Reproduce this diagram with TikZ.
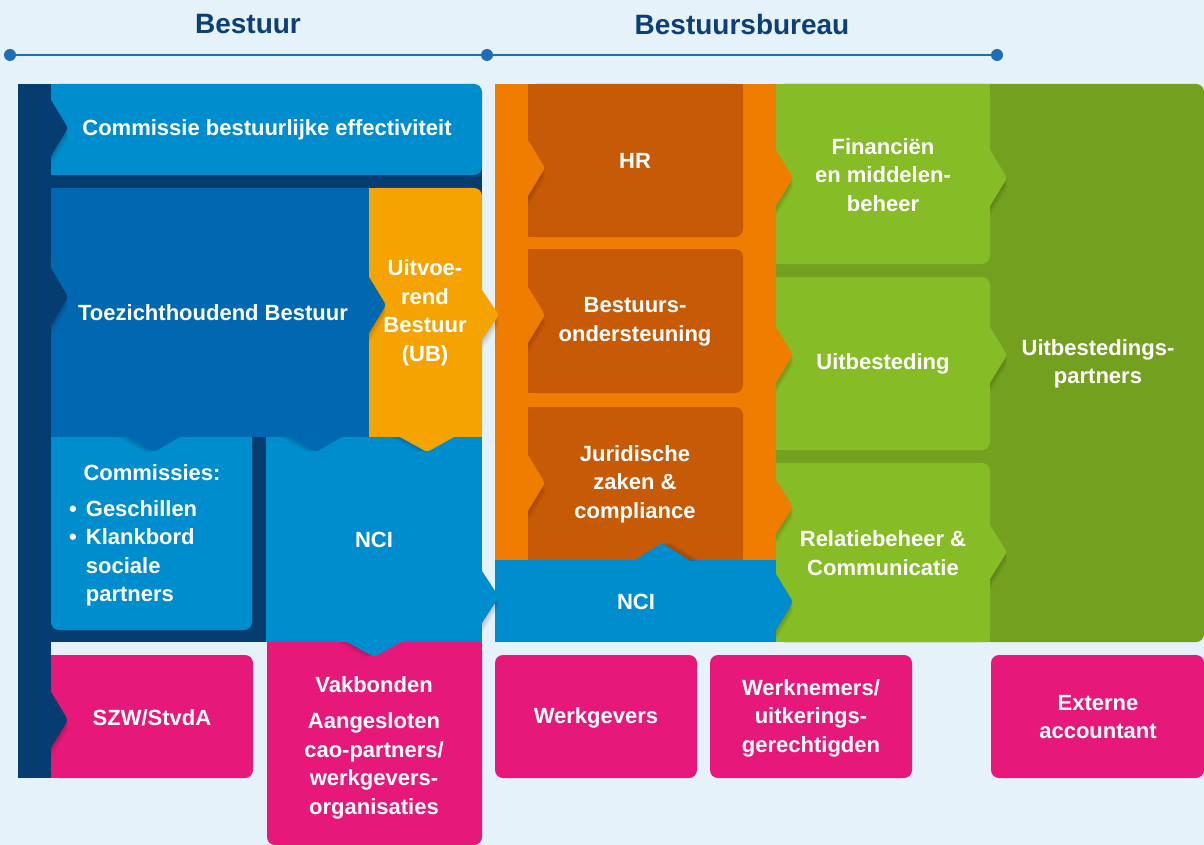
\documentclass[tikz,border=0pt]{standalone}
\usepackage{fontspec}
\setmainfont{Liberation Sans}
\definecolor{bgc}{HTML}{E5F2F9}
\definecolor{navy}{HTML}{053D70}
\definecolor{cyanb}{HTML}{008DCD}
\definecolor{tbblue}{HTML}{0068B0}
\definecolor{uby}{HTML}{F5A300}
\definecolor{orng}{HTML}{EE7D00}
\definecolor{dorng}{HTML}{C75A06}
\definecolor{lgreen}{HTML}{86BC26}
\definecolor{dgreen}{HTML}{74A020}
\definecolor{pinkc}{HTML}{E6197A}
\definecolor{linec}{HTML}{1D6EB5}
\definecolor{titlec}{HTML}{0D3E74}
% right-pointing chevron: colour, base x, tip y, half height
\newcommand\chevR[4]{%
 \begin{scope}\clip (#2,{#3-#4-2}) rectangle ({#2+40},{#3+#4+16});
 \foreach \s in {2,4,...,10}{\fill[black,opacity=.035] ({#2-8},{#3-#4-8*#4/17+\s}) -- ({#2+17},{#3+\s}) -- ({#2-8},{#3+#4+8*#4/17+\s}) -- cycle;}\end{scope}
 \fill[#1,rounded corners=3] ({#2-8},{#3-#4-8*#4/17}) -- ({#2+17},#3) -- ({#2-8},{#3+#4+8*#4/17}) -- cycle;}
% down-pointing chevron: colour, centre x, base y, half width
\newcommand\chevD[4]{%
 \begin{scope}\clip ({#2-#4-16},#3) rectangle ({#2+#4+2},{#3+30});
 \foreach \s in {2,4,...,10}{\fill[black,opacity=.035] ({#2-#4-8*#4/15-\s},{#3-8}) -- ({#2-\s},{#3+15}) -- ({#2+#4+8*#4/15-\s},{#3-8}) -- cycle;}\end{scope}
 \fill[#1,rounded corners=3] ({#2-#4-8*#4/15},{#3-8}) -- (#2,{#3+15}) -- ({#2+#4+8*#4/15},{#3-8}) -- cycle;}
% up-pointing chevron: colour, centre x, base y, half width
\newcommand\chevU[4]{%
 \begin{scope}\clip ({#2-#4-2},#3) rectangle ({#2+#4+16},{#3-30});
 \foreach \s in {2,4,...,10}{\fill[black,opacity=.035] ({#2-#4-8*#4/17+\s},{#3+8}) -- ({#2+\s},{#3-17}) -- ({#2+#4+8*#4/17+\s},{#3+8}) -- cycle;}\end{scope}
 \fill[#1,rounded corners=3] ({#2-#4-8*#4/17},{#3+8}) -- (#2,{#3-17}) -- ({#2+#4+8*#4/17},{#3+8}) -- cycle;}
\begin{document}
\begin{tikzpicture}[x=1pt,y=-1pt,
  lbl/.style={text=white,font=\bfseries\fontsize{22}{28.5}\selectfont,align=center,inner sep=0pt},
  ttl/.style={text=titlec,font=\bfseries\fontsize{28}{30}\selectfont,inner sep=0pt}]
\useasboundingbox (0,0) rectangle (1204,845);
\fill[bgc] (0,0) rectangle (1204,845);
% titles and line
\node[ttl] (tBestuur) at (248,24) {Bestuur};
\node[ttl] (tBureau) at (742,24) {Bestuursbureau};
\coordinate (l1) at (10,55);
\coordinate (l2) at (487,55);
\coordinate (l3) at (997,55);
\draw[linec,line width=2.6] (l1) -- (l3);
\foreach \p in {l1,l2,l3} \fill[linec] (\p) circle (6);
% ---------- left panel ----------
\fill[navy] (18,84) rectangle (470,642);
\fill[navy] (18,100) rectangle (482,642);
\fill[navy] (18,642) rectangle (51,778);
% Commissie bestuurlijke effectiviteit
\fill[cyanb,rounded corners=8] (51,84) rectangle (482,175);
\fill[cyanb] (51,84) rectangle (65,175);
% Toezichthoudend Bestuur
\fill[tbblue] (51,188) rectangle (369,437);
% UB
\fill[uby,rounded corners=8] (369,188) rectangle (482,437);
\fill[uby] (369,188) rectangle (382,437);
\fill[uby] (369,424) rectangle (482,437);
% Commissies
\fill[cyanb,rounded corners=8] (51,437) rectangle (252,630);
\fill[cyanb] (51,437) rectangle (252,450);
% NCI left
\fill[cyanb] (266,437) rectangle (482,642);
% SZW
\fill[pinkc,rounded corners=8] (51,655) rectangle (253,778);
\fill[pinkc] (51,655) rectangle (64,778);
% Vakbonden
\fill[pinkc,rounded corners=8] (267,642) rectangle (482,845);
\fill[pinkc] (267,642) rectangle (482,656);
% ---------- right panel ----------
\fill[orng] (495,84) rectangle (776,560);
\fill[dorng,rounded corners=8] (528,84) rectangle (743,237);
\fill[dorng] (528,84) rectangle (743,100);
\fill[dorng] (528,84) rectangle (541,237);
\fill[dorng,rounded corners=8] (528,249) rectangle (743,393);
\fill[dorng] (528,249) rectangle (541,393);
\fill[dorng,rounded corners=8] (528,407) rectangle (743,560);
\fill[dorng] (528,407) rectangle (541,560);
\fill[dorng] (528,546) rectangle (743,560);
\fill[cyanb] (495,560) rectangle (776,642);
\fill[dgreen,rounded corners=8] (776,84) rectangle (1204,642);
\fill[lgreen,rounded corners=8] (776,84) rectangle (990,264);
\fill[lgreen] (776,84) rectangle (990,100);
\fill[lgreen] (776,84) rectangle (789,264);
\fill[lgreen,rounded corners=8] (776,277) rectangle (990,450);
\fill[lgreen] (776,277) rectangle (789,450);
\fill[lgreen,rounded corners=8] (776,463) rectangle (990,642);
\fill[lgreen] (776,463) rectangle (789,642);
\fill[lgreen] (776,628) rectangle (990,642);
% bottom pink boxes
\fill[pinkc,rounded corners=8] (495,655) rectangle (697,778);
\fill[pinkc,rounded corners=8] (710,655) rectangle (912,778);
\fill[pinkc,rounded corners=8] (991,655) rectangle (1204,778);
% ---------- chevrons ----------
\chevR{navy}{51}{128}{28}
\chevR{navy}{51}{297}{29}
\chevR{navy}{51}{720}{28}
\chevR{tbblue}{369}{305}{28}
\chevR{uby}{482}{315}{25}
\chevR{cyanb}{482}{597}{26}
\chevR{orng}{528}{168}{28}
\chevR{orng}{528}{315}{28}
\chevR{orng}{528}{483}{28}
\chevR{orng}{776}{178}{28}
\chevR{orng}{776}{355}{28}
\chevR{orng}{776}{507}{27}
\chevR{cyanb}{776}{602}{28}
\chevR{lgreen}{990}{178}{28}
\chevR{lgreen}{990}{355}{28}
\chevR{lgreen}{990}{552}{27}
\chevD{tbblue}{154}{437}{26}
\chevD{tbblue}{316}{437}{26}
\chevD{uby}{427}{437}{27}
\chevD{cyanb}{374}{642}{27}
\chevU{cyanb}{662}{560}{27}
% ---------- labels ----------
\node[lbl] (cbe) at (267,130) {Commissie bestuurlijke effectiviteit};
\node[lbl] (tbt) at (213,313) {Toezichthoudend Bestuur};
\node[lbl] (ubt) at (425,313) {Uitvoe-\\rend\\Bestuur\\(UB)};
\node[lbl] (comh) at (152,473) {Commissies:};
\node[lbl,anchor=north west,align=left] (coml) at (69,496) {%
  \begin{tabular}{@{}l@{\hspace{9pt}}l@{}}\textbullet & Geschillen\\ \textbullet & Klankbord\\ & sociale\\ & partners\end{tabular}};
\node[lbl] (ncil) at (374,540) {NCI};
\node[lbl] (szw) at (152,718) {SZW/StvdA};
\node[lbl] (vak) at (374,685) {Vakbonden};
\node[lbl] (aang) at (374,766) {Aangesloten\\cao-partners/\\werkgevers-\\organisaties};
\node[lbl] (hr) at (635,161) {HR};
\node[lbl] (bo) at (635,322) {Bestuurs-\\ondersteuning};
\node[lbl] (jur) at (635,484) {Juridische\\zaken \&\\compliance};
\node[lbl] (ncir) at (636,602) {NCI};
\node[lbl] (fin) at (883,175) {Financiën\\en middelen-\\beheer};
\node[lbl] (uit) at (883,364) {Uitbesteding};
\node[lbl] (rel) at (883,553) {Relatiebeheer \&\\Communicatie};
\node[lbl] (uitp) at (1098,364) {Uitbestedings-\\partners};
\node[lbl] (wg) at (596,718) {Werkgevers};
\node[lbl] (wn) at (811,718) {Werknemers/\\uitkerings-\\gerechtigden};
\node[lbl] (ext) at (1098,717) {Externe\\accountant};
\end{tikzpicture}
\end{document}
